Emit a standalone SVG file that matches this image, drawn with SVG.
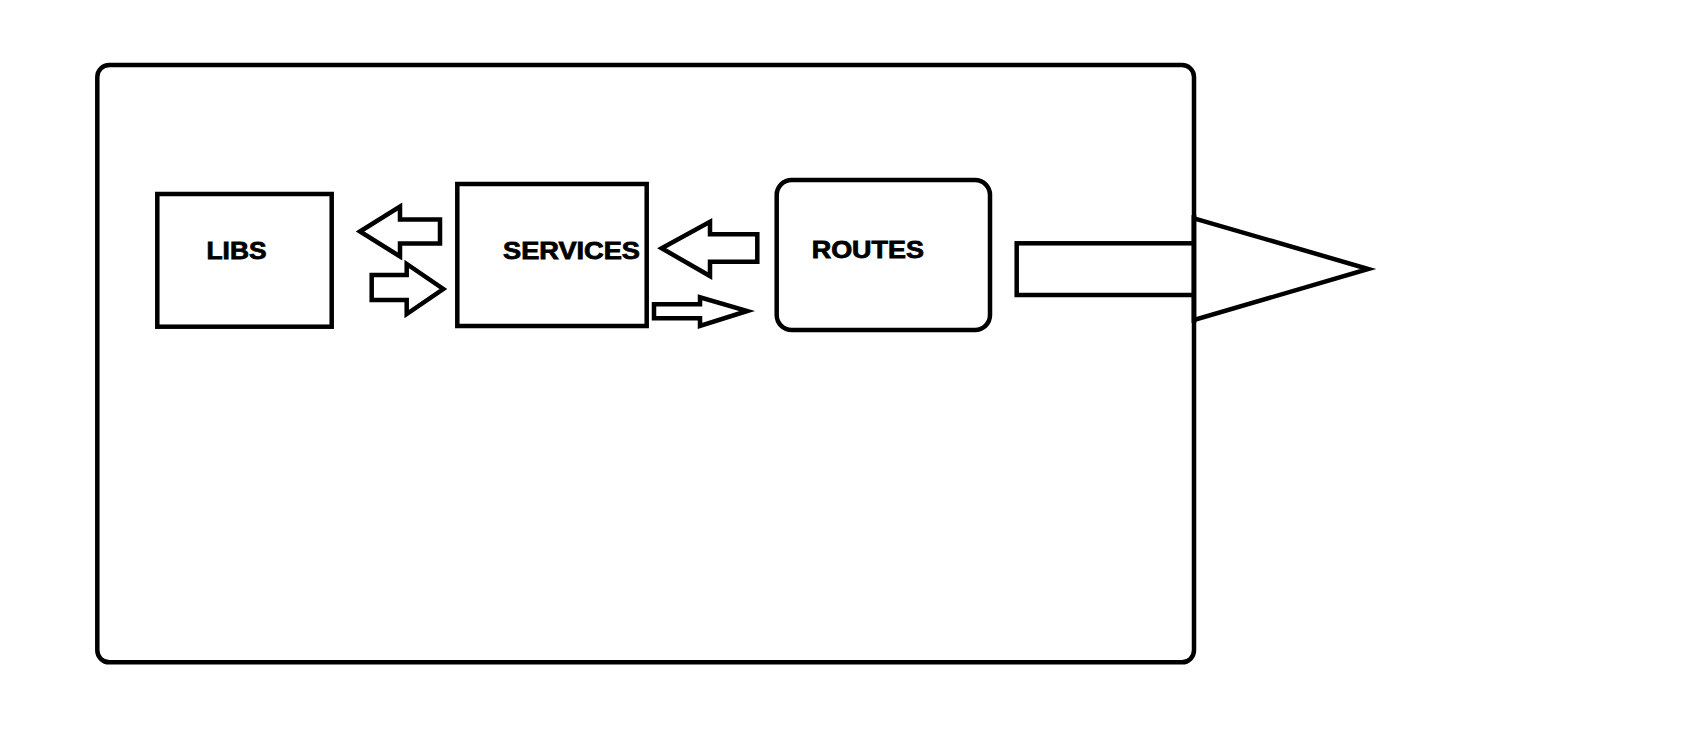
<svg xmlns="http://www.w3.org/2000/svg" width="1686" height="754" viewBox="0 0 1686 754">
<style>
.s{fill:#fff;stroke:#000;stroke-width:4.5;stroke-linejoin:miter}
.t{font-family:"Liberation Sans",Arial,sans-serif;font-weight:bold;font-size:23.5px;fill:#000;stroke:#000;stroke-width:0.8}
</style>
<rect width="1686" height="754" fill="#fff"/>
<g id="container">
<rect class="s" x="97.3" y="65" width="1096.7" height="597.3" rx="12" ry="12"/>
</g>
<g id="libs">
<rect class="s" x="157.3" y="194" width="174.4" height="132.7"/>
<text class="t" x="206.5" y="259.3" textLength="60" lengthAdjust="spacingAndGlyphs">LIBS</text>
</g>
<g id="services">
<rect class="s" x="457.3" y="184" width="189.4" height="142"/>
<text class="t" x="503" y="258.5" textLength="137" lengthAdjust="spacingAndGlyphs">SERVICES</text>
</g>
<g id="routes">
<rect class="s" x="776.7" y="180" width="213.3" height="150" rx="15" ry="15"/>
<text class="t" x="811.7" y="257.5" textLength="112.3" lengthAdjust="spacingAndGlyphs">ROUTES</text>
</g>
<g id="connectors">
<polygon class="s" points="360,231.5 400,206.5 400,219.5 440,219.5 440,243.5 400,243.5 400,256.5"/>
<polygon class="s" points="371.7,275 406.7,275 406.7,264 443.3,289 406.7,314 406.7,300 371.7,300"/>
<polygon class="s" points="661.7,248.3 710,221.7 710,234.3 757.3,234.3 757.3,261.7 710,261.7 710,276"/>
<polygon class="s" points="654,304.3 700,304.3 700,297.3 747.3,311 700,326 700,318.3 654,318.3"/>
<rect class="s" x="1016.7" y="243.3" width="177.3" height="51.7"/>
<polygon class="s" points="1194,218.3 1368.3,269 1194,320"/>
<line x1="1194" y1="215" x2="1194" y2="323" stroke="#000" stroke-width="4.5"/>
</g>
</svg>
